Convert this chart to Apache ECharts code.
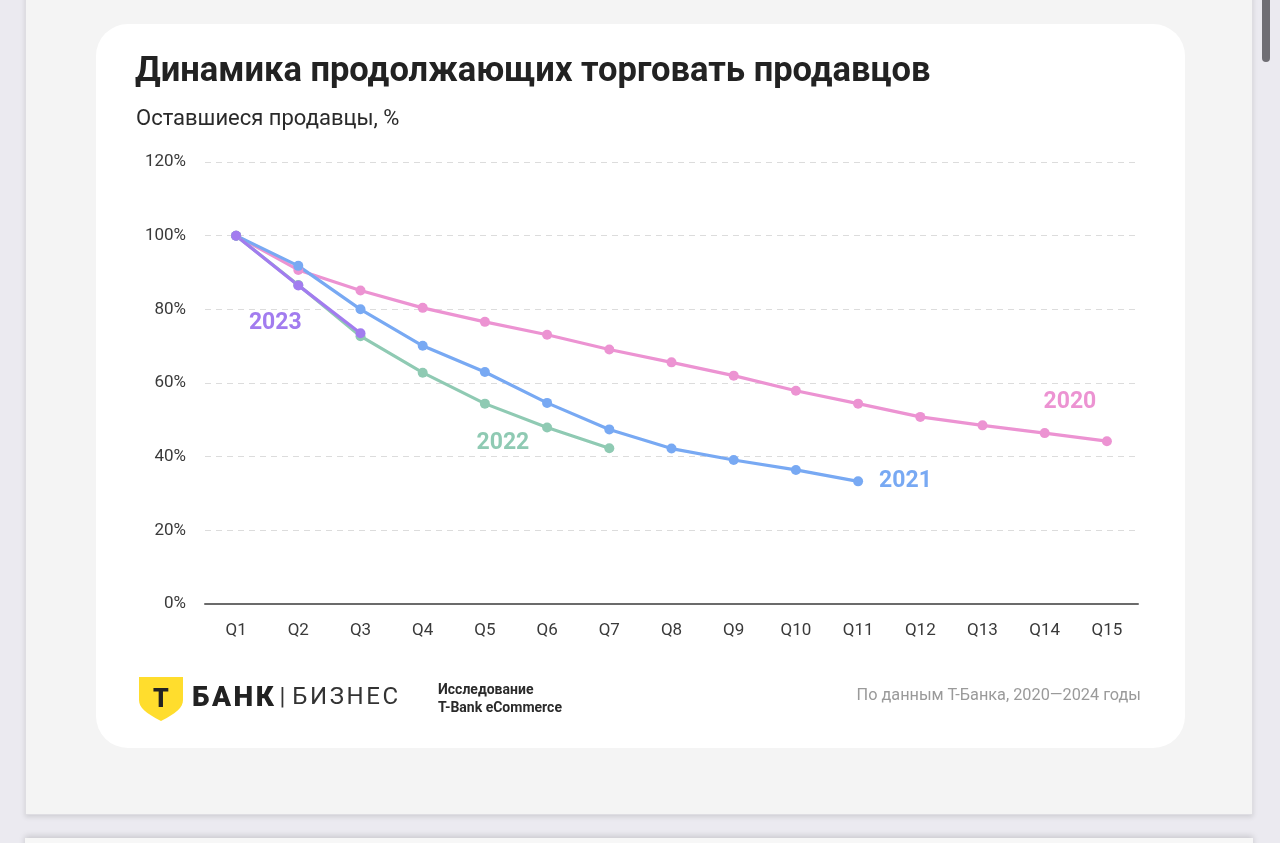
<!DOCTYPE html>
<html lang="ru">
<head>
<meta charset="utf-8">
<title>Динамика продолжающих торговать продавцов</title>
<script src="https://cdn.jsdelivr.net/npm/echarts@6/dist/echarts.min.js"></script>
<style>
  html, body { margin: 0; padding: 0; }
  body {
    width: 1280px; height: 843px; overflow: hidden; position: relative;
    background: #ebeaf0; font-family: Roboto, "Noto Sans", sans-serif;
  }
  .panel {
    position: absolute; left: 25px; top: -10px; width: 1228px; height: 825px;
    background: #f4f4f4; border: 1px solid #dedde2; box-sizing: border-box;
    box-shadow: 0 2px 5px rgba(0,0,0,0.12);
  }
  .panel2 {
    position: absolute; left: 25px; top: 838px; width: 1228px; height: 40px;
    background: #f7f7f7; box-shadow: 0 -2px 6px rgba(0,0,0,0.15);
  }
  .scroll {
    position: absolute; left: 1262px; top: -4px; width: 8px; height: 66px;
    border-radius: 4px; background: #6f6e74;
  }
  .card {
    position: absolute; left: 96px; top: 24px; width: 1089px; height: 724px;
    background: #fff; border-radius: 32px;
  }
  #chart { position: absolute; left: 0; top: 0; width: 1089px; height: 724px; }
  .title {
    position: absolute; left: 39px; top: 25px; font-size: 34.5px; font-weight: 700;
    color: #222; letter-spacing: 0; white-space: nowrap;
  }
  .subtitle {
    position: absolute; left: 40px; top: 81px; font-size: 22px; color: #2a2a2a; white-space: nowrap;
  }
  .logo { position: absolute; left: 42px; top: 652px; }
  .brand {
    position: absolute; left: 96px; top: 656px; font-size: 28px; font-weight: 900; color: #222;
    white-space: nowrap; letter-spacing: 2.5px;
  }
  .brand span.sep { font-weight: 400; font-size: 24px; color: #333; margin: 0 7px 0 3px; vertical-align: 2px; letter-spacing: 0; }
  .brand span.biz { font-weight: 400; font-size: 24px; color: #333; letter-spacing: 2.6px; vertical-align: 2px; }
  .study {
    position: absolute; left: 342px; top: 656px; font-size: 14px; font-weight: 700; color: #2a2a2a;
    line-height: 18px; white-space: nowrap;
  }
  .source {
    position: absolute; right: 44px; top: 661px; font-size: 16.3px; color: #9a9a9a; white-space: nowrap;
  }
</style>
</head>
<body>
<div class="panel"></div>
<div class="panel2"></div>
<div class="scroll"></div>
<div class="card">
  <div id="chart"></div>
  <div class="title">Динамика продолжающих торговать продавцов</div>
  <div class="subtitle">Оставшиеся продавцы, %</div>
  <svg class="logo" width="46" height="46" viewBox="0 0 46 46">
    <path d="M1 1 H45 V24 C45 32 38 37 23 45 C8 37 1 32 1 24 Z" fill="#ffdd2d"/>
    <text x="23" y="31" text-anchor="middle" font-family="Roboto, sans-serif" font-weight="900" font-size="25" fill="#222">Т</text>
  </svg>
  <div class="brand">БАНК<span class="sep">|</span><span class="biz">БИЗНЕС</span></div>
  <div class="study">Исследование<br>T-Bank eCommerce</div>
  <div class="source">По данным Т-Банка, 2020—2024 годы</div>
</div>

<script>
// кварталы с момента начала торговли
const quarters = ['Q1', 'Q2', 'Q3', 'Q4', 'Q5', 'Q6', 'Q7', 'Q8', 'Q9', 'Q10', 'Q11', 'Q12', 'Q13', 'Q14', 'Q15']

// доля оставшихся продавцов по когортам, %
const cohort2020 = [100, 90.7, 85.1, 80.4, 76.6, 73.1, 69.1, 65.6, 62.0, 57.9, 54.4, 50.8, 48.5, 46.4, 44.2]
const cohort2021 = [100, 91.8, 80.0, 70.1, 63.0, 54.6, 47.4, 42.2, 39.1, 36.4, 33.3]
const cohort2022 = [100, 86.6, 72.7, 62.8, 54.4, 47.9, 42.3]
const cohort2023 = [100, 86.5, 73.5]

const cohortNames = ['2020', '2021', '2022', '2023']

const chart = echarts.init(document.getElementById('chart'))

const makeData = (values, labelIndex, label) =>
  values.map((v, i) => (i === labelIndex ? { value: v, label: Object.assign({ show: true }, label) } : v))

const makeSeries = (name, values, color, labelIndex, label) => ({
  name,
  type: 'line',
  data: makeData(values, labelIndex, label),
  symbol: 'circle',
  symbolSize: 10,
  itemStyle: { color },
  lineStyle: { color, width: 3.2 },
  label: {
    show: false,
    formatter: name,
    color,
    fontSize: 23,
    fontWeight: 700,
    fontFamily: 'Roboto'
  },
  emphasis: { disabled: true },
  animation: false
})

chart.setOption({
  animation: false,
  grid: { left: 109, right: 47, top: 138, bottom: 144 },
  xAxis: {
    type: 'category',
    data: quarters,
    boundaryGap: true,
    axisTick: { show: false },
    axisLine: { lineStyle: { color: '#6b6b6b', width: 2 } },
    axisLabel: { color: '#3a3a3a', fontSize: 17, margin: 18, fontFamily: 'Roboto' }
  },
  yAxis: {
    type: 'value',
    min: 0,
    max: 120,
    interval: 20,
    axisLine: { show: false },
    axisTick: { show: false },
    axisLabel: { color: '#3a3a3a', fontSize: 17, margin: 19, fontFamily: 'Roboto', formatter: '{value}%' },
    splitLine: { lineStyle: { color: '#dcdcdc', type: [6, 5], width: 1.2 } }
  },
  series: [
    makeSeries(cohortNames[0], cohort2020, '#ec93d2', 14, { position: 'inside', offset: [-37, -39] }),
    makeSeries(cohortNames[1], cohort2021, '#78a9f3', 10, { position: 'right', distance: 16 }),
    makeSeries(cohortNames[2], cohort2022, '#8fcab3', 4, { position: 'inside', offset: [18, 40] }),
    makeSeries(cohortNames[3], cohort2023, '#a27cef', 1, { position: 'inside', offset: [-23, 38] })
  ]
})
</script>
</body>
</html>
